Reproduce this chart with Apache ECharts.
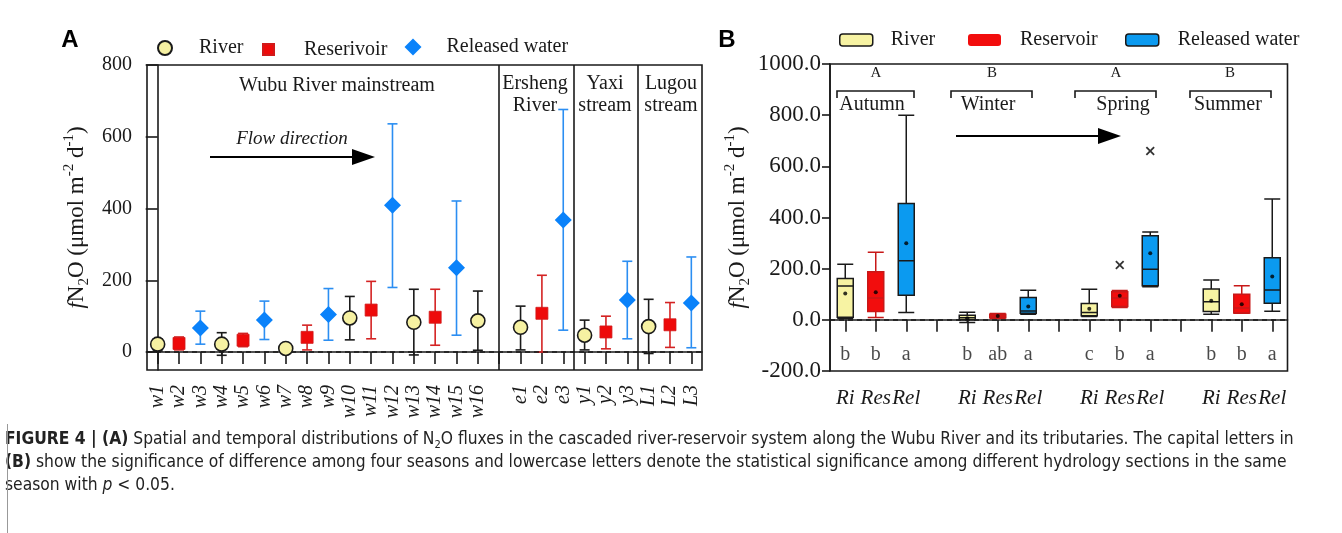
<!DOCTYPE html>
<html><head><meta charset="utf-8">
<script src="https://cdn.jsdelivr.net/npm/echarts@6/dist/echarts.min.js"></script>
<style>html,body{margin:0;padding:0;background:#fff}#c{width:1342px;height:533px}</style>
</head><body><div id="c"></div>
<script>
// ---------- Panel A data ----------
const siteOrder = ['w1','w2','w3','w4','w5','w6','w7','w8','w9','w10','w11','w12','w13','w14','w15','w16','','e1','e2','e3','y1','y2','y3','L1','L2','L3'];
const yTicksA = [0, 200, 400, 600, 800];

const riverSites = ['w1','w4','w7','w10','w13','w16','e1','y1','L1'];
const riverMean  = [22, 22, 10, 95, 83, 87, 69, 47, 71];
const riverLow   = [3, -9, 2, 34, -8, 5, 6, 6, -4];
const riverHigh  = [37, 54, 18, 155, 175, 170, 128, 89, 147];

const resSites = ['w2','w5','w8','w11','w14','e2','y2','L2'];
const resMean  = [24, 33, 41, 117, 97, 108, 56, 76];
const resLow   = [6, 15, 6, 37, 19, 0, 9, 13];
const resHigh  = [42, 52, 75, 197, 175, 214, 100, 138];

const relSites = ['w3','w6','w9','w12','w15','e3','y3','L3'];
const relMean  = [67, 89, 105, 409, 235, 368, 145, 137];
const relLow   = [22, 35, 33, 180, 47, 61, 37, 12];
const relHigh  = [114, 142, 177, 636, 421, 676, 253, 265];

// ---------- Panel B data ----------
const seasonCats = ['Ri','Res','Rel','','Ri','Res','Rel','','Ri','Res','Rel','','Ri','Res','Rel'];
const seasons = ['Autumn','Winter','Spring','Summer'];
const seasonSig = ['A','B','A','B'];
// [min, Q1, median, Q3, max] per season
const riverBox = [[5,10,132,162,217],[-10,0,8,18,30],[13,16,29,64,120],[22,33,71,121,156]];
const riverBoxMean = [103, 6, 43, 75];
const resBox = [[9,33,85,188,264],[5,8,15,22,25],[48,52,85,110,115],[26,27,46,100,133]];
const resBoxMean = [108, 15, 94, 61];
const relBox = [[29,96,231,455,800],[22,26,35,87,116],[129,133,198,329,343],[34,65,117,243,472]];
const relBoxMean = [299, 52, 260, 169];
const outliers = [[9, 214], [10, 660]]; // [category index, value]
const sigLetters = ['b','b','a','','b','ab','a','','c','b','a','','b','b','a'];

// ---------- styles ----------
const SERIF = "'Liberation Serif', 'Times New Roman', serif";
const SANS = "'Liberation Sans', Arial, sans-serif";
const TXT = '#1a1a1a';
const cRiver = '#f6f1a2', cRes = '#ee0a0a', cRel = '#0a82fa';
const barRiver = '#1a1a1a', barRes = '#d42323', barRel = '#2b8ef2';
const boxRiver = '#f7f3a3', boxRes = '#f20d0d', boxRel = '#0b9af0';

function errorBar(color){
  return function(params, api){
    const x = api.value(0), lo = api.value(1), hi = api.value(2);
    const a = api.coord([x, lo]), b = api.coord([x, hi]);
    const hw = 5, st = {stroke: color, lineWidth: 1.6};
    return {type:'group', children:[
      {type:'line', shape:{x1:a[0], y1:a[1], x2:b[0], y2:b[1]}, style:st},
      {type:'line', shape:{x1:a[0]-hw, y1:a[1], x2:a[0]+hw, y2:a[1]}, style:st},
      {type:'line', shape:{x1:b[0]-hw, y1:b[1], x2:b[0]+hw, y2:b[1]}, style:st}
    ]};
  };
}
const pos = s => siteOrder.indexOf(s);
const barData = (sites, lo, hi) => sites.map((s,i) => [pos(s), lo[i], hi[i]]);
const ptData = (sites, m) => sites.map((s,i) => [pos(s), m[i]]);
const boxData = (boxes, t) => boxes.map((b,g) => [g*4 + t].concat(b));
const meanData = (ms, t) => ms.map((m,g) => [g*4 + t, m]);

const yName = '{i|f}N{sub|2}O (μmol m{sup|-2} d{sup|-1})';
const nameStyle = {
  fontFamily: SERIF, fontSize: 23, color: TXT, lineHeight: 30,
  rich: {
    i: {fontFamily: SERIF, fontStyle: 'italic', fontSize: 23, color: TXT, lineHeight: 30},
    sub: {fontFamily: SERIF, fontSize: 15, color: TXT, lineHeight: 12, verticalAlign: 'bottom'},
    sup: {fontFamily: SERIF, fontSize: 15, color: TXT, lineHeight: 12, verticalAlign: 'top'}
  }
};
const axisLine = {show: true, lineStyle: {color: TXT, width: 1.6}};
const hiddenCat = () => ({gridIndex: 1, type: 'category', data: seasonCats, boundaryGap: true, show: false,
  axisLine: {show: false}, axisTick: {show: false}, axisLabel: {show: false}});

const chart = echarts.init(document.getElementById('c'), null, {renderer: 'canvas'});

const option = {
  backgroundColor: '#fff',
  animation: false,
  grid: [
    {left: 147, top: 65, width: 555, height: 305, show: true, borderColor: TXT, borderWidth: 1.6, backgroundColor: 'transparent', outerBoundsMode: 'none'},
    {left: 830, top: 64, width: 457.5, height: 307, show: true, borderColor: TXT, borderWidth: 1.6, backgroundColor: 'transparent', outerBoundsMode: 'none'}
  ],
  xAxis: [
    {gridIndex: 0, type: 'value', min: -0.5, max: 25.5,
     axisLine: axisLine, splitLine: {show: false},
     axisTick: {show: true, length: 12, lineStyle: {color: TXT, width: 1.6},
                customValues: siteOrder.map((s,i) => i)},
     axisLabel: {customValues: siteOrder.map((s,i) => i).filter(i => siteOrder[i] !== ''),
                 formatter: v => siteOrder[Math.round(v)], rotate: 90, margin: 15,
                 fontFamily: SERIF, fontStyle: 'italic', fontSize: 20, color: TXT, hideOverlap: false}},
    {gridIndex: 1, type: 'category', data: seasonCats, boundaryGap: true,
     axisLine: axisLine,
     axisTick: {show: true, length: 12, alignWithLabel: true, interval: 0, lineStyle: {color: TXT, width: 1.6}},
     axisLabel: {interval: 0, margin: 17, fontFamily: SERIF, fontStyle: 'italic', fontSize: 21, color: TXT}},
    hiddenCat(),
    hiddenCat()
  ],
  yAxis: [
    {gridIndex: 0, type: 'value', min: -50, max: 800,
     name: yName, nameLocation: 'middle', nameGap: 55, nameRotate: 90, nameTextStyle: nameStyle, nameMoveOverlap: false,
     axisLine: axisLine, splitLine: {show: false},
     axisTick: {show: true, length: 12, customValues: yTicksA, lineStyle: {color: TXT, width: 1.6}},
     axisLabel: {customValues: yTicksA, margin: 15, fontFamily: SERIF, fontSize: 20, color: TXT}},
    {gridIndex: 1, type: 'value', min: -200, max: 1000, interval: 200,
     name: yName, nameLocation: 'middle', nameGap: 77, nameRotate: 90, nameTextStyle: nameStyle, nameMoveOverlap: false,
     axisLine: axisLine, splitLine: {show: false},
     axisTick: {show: true, length: 8, lineStyle: {color: TXT, width: 1.6}},
     axisLabel: {margin: 9, formatter: v => v.toFixed(1), fontFamily: SERIF, fontSize: 23, color: TXT}}
  ],
  legend: [
    {data: [{name: 'River', icon: 'circle'}], left: 157, top: 38, itemWidth: 14, itemHeight: 14, padding: 0, selectedMode: false,
     textStyle: {fontFamily: SERIF, fontSize: 20, color: TXT, padding: [0,0,0,22]}},
    {data: [{name: 'Reserivoir', icon: 'rect'}], left: 262, top: 39.5, itemWidth: 11, itemHeight: 11, padding: 0, selectedMode: false,
     textStyle: {fontFamily: SERIF, fontSize: 20, color: TXT, padding: [0,0,0,25]}},
    {data: [{name: 'Released water', icon: 'diamond'}], left: 404.5, top: 37, itemWidth: 17, itemHeight: 17, padding: 0, selectedMode: false,
     textStyle: {fontFamily: SERIF, fontSize: 20, color: TXT, padding: [0,0,0,20]}},
    {data: [{name: 'B River', icon: 'roundRect', itemStyle: {color: boxRiver, borderColor: TXT, borderWidth: 1.5}}],
     left: 839, top: 30, itemWidth: 33, itemHeight: 12, padding: 0, selectedMode: false, formatter: n => n.slice(2),
     textStyle: {fontFamily: SERIF, fontSize: 20, color: TXT, padding: [0,0,0,13]}},
    {data: [{name: 'B Reservoir', icon: 'roundRect', itemStyle: {color: boxRes, borderColor: boxRes, borderWidth: 0}}],
     left: 968, top: 30, itemWidth: 33, itemHeight: 12, padding: 0, selectedMode: false, formatter: n => n.slice(2),
     textStyle: {fontFamily: SERIF, fontSize: 20, color: TXT, padding: [0,0,0,14]}},
    {data: [{name: 'B Released water', icon: 'roundRect', itemStyle: {color: boxRel, borderColor: TXT, borderWidth: 1.5}}],
     left: 1125, top: 30, itemWidth: 33, itemHeight: 12, padding: 0, selectedMode: false, formatter: n => n.slice(2),
     textStyle: {fontFamily: SERIF, fontSize: 20, color: TXT, padding: [0,0,0,14]}}
  ],
  series: [
    // ----- Panel A -----
    {type: 'custom', name: 'barsRiver', xAxisIndex: 0, yAxisIndex: 0, renderItem: errorBar(barRiver),
     encode: {x: 0, y: [1, 2]}, data: barData(riverSites, riverLow, riverHigh), z: 2,
     markLine: {silent: true, symbol: 'none', label: {show: false},
       data: [{yAxis: 0, lineStyle: {type: [5, 4], color: TXT, width: 1.6}},
              {xAxis: 16, lineStyle: {type: 'solid', color: TXT, width: 1.6}},
              {xAxis: 19.5, lineStyle: {type: 'solid', color: TXT, width: 1.6}},
              {xAxis: 22.5, lineStyle: {type: 'solid', color: TXT, width: 1.6}}]}},
    {type: 'custom', name: 'barsRes', xAxisIndex: 0, yAxisIndex: 0, renderItem: errorBar(barRes),
     encode: {x: 0, y: [1, 2]}, data: barData(resSites, resLow, resHigh), z: 2},
    {type: 'custom', name: 'barsRel', xAxisIndex: 0, yAxisIndex: 0, renderItem: errorBar(barRel),
     encode: {x: 0, y: [1, 2]}, data: barData(relSites, relLow, relHigh), z: 2},
    {type: 'scatter', name: 'River', xAxisIndex: 0, yAxisIndex: 0, symbol: 'circle', symbolSize: 14, z: 5,
     itemStyle: {color: cRiver, borderColor: TXT, borderWidth: 1.6, opacity: 1}, data: ptData(riverSites, riverMean)},
    {type: 'scatter', name: 'Reserivoir', xAxisIndex: 0, yAxisIndex: 0, symbol: 'rect', symbolSize: 12, z: 5,
     itemStyle: {color: cRes, borderColor: '#d01a1a', borderWidth: 0.8, opacity: 1}, data: ptData(resSites, resMean)},
    {type: 'scatter', name: 'Released water', xAxisIndex: 0, yAxisIndex: 0, symbol: 'diamond', symbolSize: 17, z: 5,
     itemStyle: {color: cRel, opacity: 1}, data: ptData(relSites, relMean)},
    // ----- Panel B -----
    {type: 'boxplot', name: 'B River', xAxisIndex: 1, yAxisIndex: 1, boxWidth: [16, 16], encode: {x: 0, y: [1,2,3,4,5]},
     itemStyle: {color: boxRiver, borderColor: TXT, borderWidth: 1.5}, data: boxData(riverBox, 0),
     markLine: {silent: true, symbol: 'none', label: {show: false},
       data: [{yAxis: 0, lineStyle: {type: [5, 4], color: TXT, width: 1.6}}]}},
    {type: 'boxplot', name: 'B Reservoir', xAxisIndex: 2, yAxisIndex: 1, boxWidth: [16, 16], encode: {x: 0, y: [1,2,3,4,5]},
     itemStyle: {color: boxRes, borderColor: '#c81818', borderWidth: 1.5}, data: boxData(resBox, 1)},
    {type: 'boxplot', name: 'B Released water', xAxisIndex: 3, yAxisIndex: 1, boxWidth: [16, 16], encode: {x: 0, y: [1,2,3,4,5]},
     itemStyle: {color: boxRel, borderColor: TXT, borderWidth: 1.5}, data: boxData(relBox, 2)},
    {type: 'scatter', name: 'means', xAxisIndex: 1, yAxisIndex: 1, symbol: 'circle', symbolSize: 4, z: 6,
     itemStyle: {color: '#000'}, data: [].concat(meanData(riverBoxMean, 0), meanData(resBoxMean, 1), meanData(relBoxMean, 2))},
    {type: 'scatter', name: 'outliers', xAxisIndex: 1, yAxisIndex: 1, z: 6,
     symbol: 'path://M0,1.4L1.4,0L5,3.6L8.6,0L10,1.4L6.4,5L10,8.6L8.6,10L5,6.4L1.4,10L0,8.6L3.6,5Z', symbolSize: 9,
     itemStyle: {color: '#000'}, data: outliers},
    {type: 'scatter', name: 'sig', xAxisIndex: 1, yAxisIndex: 1, symbolSize: 0, z: 6,
     data: sigLetters.map((s,i) => [i, -135, s]).filter(d => d[2] !== ''),
     label: {show: true, position: 'inside', formatter: p => p.data[2], fontFamily: SERIF, fontSize: 20, color: TXT}}
  ],
  graphic: []
};

const g = [];
const T = (x, y, text, o) => g.push(Object.assign({type: 'text', x: x, y: y, silent: true,
  style: Object.assign({text: text, fontFamily: SERIF, fontSize: 20, fill: TXT, align: 'center', verticalAlign: 'middle'}, o || {})}));
// panel letters
T(70, 40, 'A', {fontFamily: SANS, fontWeight: 'bold', fontSize: 24, fill: '#000'});
T(727, 40, 'B', {fontFamily: SANS, fontWeight: 'bold', fontSize: 24, fill: '#000'});
// panel A region labels
T(337, 86, 'Wubu River mainstream');
T(535, 84, 'Ersheng'); T(535, 106, 'River');
T(605, 84, 'Yaxi'); T(605, 106, 'stream');
T(671, 84, 'Lugou'); T(671, 106, 'stream');
T(292, 139, 'Flow direction', {fontStyle: 'italic', fontSize: 19});
// arrows
g.push({type: 'line', silent: true, shape: {x1: 210, y1: 157, x2: 355, y2: 157}, style: {stroke: '#000', lineWidth: 1.8}});
g.push({type: 'polygon', silent: true, shape: {points: [[352, 149], [375, 157], [352, 165]]}, style: {fill: '#000'}});
g.push({type: 'line', silent: true, shape: {x1: 956, y1: 136, x2: 1100, y2: 136}, style: {stroke: '#000', lineWidth: 1.8}});
g.push({type: 'polygon', silent: true, shape: {points: [[1098, 128], [1121, 136], [1098, 144]]}, style: {fill: '#000'}});
// panel B seasons, brackets, capital letters
const brX = [[837, 914], [951, 1032], [1075, 1156], [1190, 1271]];
const seasonX = [872, 988, 1123, 1228];
const sigX = [876, 992, 1116, 1230];
brX.forEach((b, i) => {
  g.push({type: 'polyline', silent: true, shape: {points: [[b[0], 98], [b[0], 91], [b[1], 91], [b[1], 98]]}, style: {stroke: TXT, lineWidth: 1.6, fill: null}});
  T(seasonX[i], 105, seasons[i]);
  T(sigX[i], 73, seasonSig[i], {fontSize: 15});
});
// caption
const CAP = "'Liberation Sans Narrow', 'DejaVu Sans Condensed', 'Liberation Sans', sans-serif";
const CS = 17.3;
const capRich = {
  b: {fontFamily: CAP, fontWeight: 'bold', fontSize: CS, fill: '#222', lineHeight: 22},
  s: {fontFamily: CAP, fontSize: 11, fill: '#222', lineHeight: 10, verticalAlign: 'bottom'},
  it: {fontFamily: CAP, fontStyle: 'italic', fontSize: CS, fill: '#222', lineHeight: 22}
};
const C = (y, text) => g.push({type: 'text', x: 5, y: y, silent: true,
  style: {text: text, fontFamily: CAP, fontSize: CS, fill: '#222', lineHeight: 22, align: 'left', verticalAlign: 'middle', rich: capRich}});
C(440, '{b|FIGURE 4 | (A)} Spatial and temporal distributions of N{s|2}O fluxes in the cascaded river-reservoir system along the Wubu River and its tributaries. The capital letters in');
C(463, '{b|(B)} show the significance of difference among four seasons and lowercase letters denote the statistical significance among different hydrology sections in the same');
C(486, 'season with {it|p} < 0.05.');
g.push({type: 'line', silent: true, shape: {x1: 7.5, y1: 424, x2: 7.5, y2: 533}, style: {stroke: '#999', lineWidth: 1}});
option.graphic = g;

chart.setOption(option);
</script>
</body></html>
